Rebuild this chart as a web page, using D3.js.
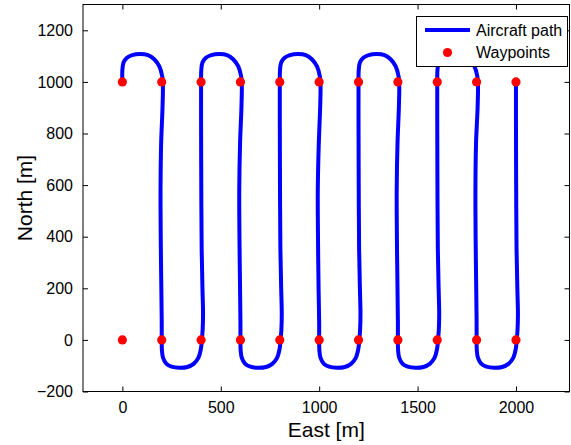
<!DOCTYPE html>
<html>
<head>
<meta charset="utf-8">
<script src="https://cdn.jsdelivr.net/npm/d3@7"></script>
<style>
  html, body { margin: 0; padding: 0; background: #fff; }
  svg { display: block; font-family: "Liberation Sans", Arial, Helvetica, sans-serif; }
</style>
</head>
<body>
<svg id="chart" width="571" height="445"></svg>
<script>
/* Aircraft lawnmower survey path, east/north in metres */

// waypoints, in mission order
const waypointEast = [0, 0, 200, 200, 400, 400, 600, 600, 800, 800, 1000, 1000,
  1200, 1200, 1400, 1400, 1600, 1600, 1800, 1800, 2000, 2000];
const waypointNorth = [0, 1000, 1000, 0, 0, 1000, 1000, 0, 0, 1000, 1000, 0,
  0, 1000, 1000, 0, 0, 1000, 1000, 0, 0, 1000];

// flown path, [east, north]
const pathPoints = [
  [0, 1000], [0, 1045], [6, 1075], [22, 1093], [50, 1104], [90, 1108], [130, 1104],
  [162, 1088], [188, 1060], [203, 1020], [206, 985],
  [204, 900], [197, 760], [194, 580], [195, 400], [198, 200], [200, 70], [200, 0],
  [201, -40], [207, -70], [223, -92], [250, -104], [290, -108], [330, -105],
  [362, -93], [386, -70], [399, -35], [404, 0],
  [408, 40], [410, 100], [407, 200], [403, 350], [401, 600], [400, 850], [400, 1000],
  [401, 1045], [407, 1075], [423, 1093], [452, 1104], [492, 1108], [532, 1104],
  [563, 1088], [589, 1060], [604, 1020], [607, 985],
  [605, 900], [598, 760], [594, 580], [595, 400], [598, 200], [600, 70], [600, 0],
  [601, -40], [607, -70], [623, -92], [650, -104], [690, -108], [730, -105],
  [762, -93], [786, -70], [799, -35], [804, 0],
  [808, 40], [810, 100], [807, 200], [803, 350], [801, 600], [800, 850], [800, 1000],
  [801, 1045], [807, 1075], [823, 1093], [852, 1104], [892, 1108], [932, 1104],
  [963, 1088], [989, 1060], [1004, 1020], [1007, 985],
  [1005, 900], [998, 760], [993, 580], [994, 400], [997, 200], [1000, 70], [1000, 0],
  [1001, -40], [1007, -70], [1023, -92], [1050, -104], [1090, -108], [1130, -105],
  [1162, -93], [1186, -70], [1199, -35], [1204, 0],
  [1208, 40], [1210, 100], [1207, 200], [1203, 350], [1201, 600], [1200, 850], [1200, 1000],
  [1201, 1045], [1207, 1075], [1223, 1093], [1252, 1104], [1292, 1108], [1332, 1104],
  [1363, 1088], [1389, 1060], [1404, 1020], [1407, 985],
  [1405, 900], [1398, 760], [1394, 580], [1395, 400], [1398, 200], [1400, 70], [1400, 0],
  [1401, -40], [1407, -70], [1423, -92], [1450, -104], [1490, -108], [1530, -105],
  [1562, -93], [1586, -70], [1599, -35], [1604, 0],
  [1608, 40], [1610, 100], [1607, 200], [1603, 350], [1601, 600], [1600, 850], [1600, 1000],
  [1601, 1045], [1607, 1075], [1623, 1093], [1652, 1104], [1692, 1108], [1732, 1104],
  [1763, 1088], [1789, 1060], [1804, 1020], [1807, 985],
  [1805, 900], [1797, 760], [1794, 580], [1795, 400], [1798, 200], [1800, 70], [1800, 0],
  [1801, -40], [1807, -70], [1823, -92], [1850, -104], [1890, -108], [1930, -105],
  [1962, -93], [1986, -70], [1999, -35], [2004, 0],
  [2008, 40], [2010, 100], [2007, 200], [2003, 350], [2001, 600], [2000, 850], [2000, 1000]
];

const xTicks = [0, 500, 1000, 1500, 2000];
const yTicks = [-200, 0, 200, 400, 600, 800, 1000, 1200];
const legendLabels = ["Aircraft path", "Waypoints"];

const width = 571;
const height = 445;
const margin = {top: 4.5, right: 1.5, bottom: 53.5, left: 83};

const svg = d3.select("#chart");

const x = d3.scaleLinear()
  .domain([-200, 2272])
  .range([margin.left, width - margin.right]);
const y = d3.scaleLinear()
  .domain([-200, 1300])
  .range([height - margin.bottom, margin.top]);

const fmt = (d) => (d < 0 ? "\u2212" + Math.abs(d) : String(d));
const tickLen = 5;

// axis frame (box on)
svg.append("rect")
  .attr("x", x.range()[0]).attr("y", y.range()[1])
  .attr("width", x.range()[1] - x.range()[0])
  .attr("height", y.range()[0] - y.range()[1])
  .attr("fill", "none").attr("stroke", "#000").attr("stroke-width", 1);

// ticks inward, on all four sides
const xAxisBottom = (g) => g
  .attr("transform", `translate(0,${y.range()[0]})`)
  .call(d3.axisBottom(x).tickValues(xTicks).tickSize(-tickLen).tickPadding(10).tickFormat(fmt))
  .call((g) => g.select(".domain").remove());
const xAxisTop = (g) => g
  .attr("transform", `translate(0,${y.range()[1]})`)
  .call(d3.axisTop(x).tickValues(xTicks).tickSize(-tickLen).tickFormat(""))
  .call((g) => g.select(".domain").remove());
const yAxisLeft = (g) => g
  .attr("transform", `translate(${x.range()[0]},0)`)
  .call(d3.axisLeft(y).tickValues(yTicks).tickSize(-tickLen).tickPadding(10).tickFormat(fmt))
  .call((g) => g.select(".domain").remove());
const yAxisRight = (g) => g
  .attr("transform", `translate(${x.range()[1]},0)`)
  .call(d3.axisRight(y).tickValues(yTicks).tickSize(-tickLen).tickFormat(""))
  .call((g) => g.select(".domain").remove());

svg.append("g").call(xAxisBottom);
svg.append("g").call(xAxisTop);
svg.append("g").call(yAxisLeft);
svg.append("g").call(yAxisRight);

svg.selectAll(".tick line").attr("stroke", "#000");
svg.selectAll(".tick text")
  .attr("font-family", "Liberation Sans, Arial, sans-serif")
  .attr("font-size", 16)
  .attr("fill", "#000");

// axis labels
svg.append("text")
  .attr("x", (x.range()[0] + x.range()[1]) / 2)
  .attr("y", 436.5)
  .attr("text-anchor", "middle")
  .attr("font-size", 21)
  .text("East [m]");
svg.append("text")
  .attr("transform", `translate(32,${(y.range()[0] + y.range()[1]) / 2}) rotate(-90)`)
  .attr("text-anchor", "middle")
  .attr("font-size", 21)
  .text("North [m]");

// flown path
const line = d3.line()
  .x((d) => x(d[0]))
  .y((d) => y(d[1]))
  .curve(d3.curveCatmullRom.alpha(0.5));

svg.append("path")
  .datum(pathPoints)
  .attr("fill", "none")
  .attr("stroke", "#0000ff")
  .attr("stroke-width", 4)
  .attr("stroke-linejoin", "round")
  .attr("stroke-linecap", "butt")
  .attr("d", line);

// waypoints
svg.append("g")
  .selectAll("circle")
  .data(waypointEast)
  .join("circle")
  .attr("cx", (d) => x(d))
  .attr("cy", (d, i) => y(waypointNorth[i]))
  .attr("r", 4.6)
  .attr("fill", "#ff0000");

// legend
const legend = svg.append("g");
legend.append("rect")
  .attr("x", 416.5).attr("y", 16.5)
  .attr("width", 151).attr("height", 50)
  .attr("fill", "#fff").attr("stroke", "#000").attr("stroke-width", 1);
legend.append("line")
  .attr("x1", 425).attr("x2", 470).attr("y1", 30).attr("y2", 30)
  .attr("stroke", "#0000ff").attr("stroke-width", 4);
legend.append("circle")
  .attr("cx", 447.5).attr("cy", 52.5).attr("r", 4.6)
  .attr("fill", "#ff0000");
legend.selectAll("text.lbl")
  .data(legendLabels)
  .join("text")
  .attr("class", "lbl")
  .attr("x", 476)
  .attr("y", (d, i) => 35.8 + i * 22.5)
  .attr("font-size", 16)
  .text((d) => d);
</script>
</body>
</html>
